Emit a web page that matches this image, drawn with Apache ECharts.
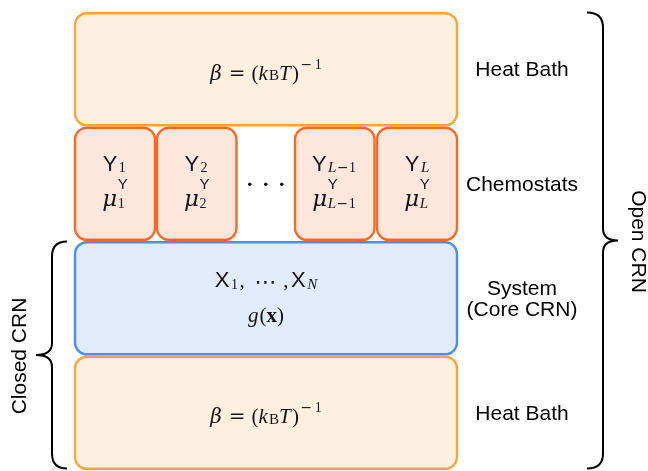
<!DOCTYPE html>
<html><head><meta charset="utf-8">
<script src="https://cdn.jsdelivr.net/npm/echarts/dist/echarts.min.js"></script>
<style>html,body{margin:0;padding:0;background:#fff}#c{width:648px;height:471px}</style>
</head><body><div id="c"></div>
<script>
// ---------- content (data) ----------
const layerKinds  = ['heat', 'chemo', 'system', 'heat'];
const layerLabels = ['Heat Bath', 'Chemostats', 'System\n(Core CRN)', 'Heat Bath'];
const heatBathFormula = [['β','gk'],['=','rel'],['(','rm'],['k','mi'],['B','subB'],['T','mi'],[')','rm'],['−','supbin'],['1','sup']];
const chemostatIndex = [ [['1','sub']], [['2','sub']], [['L','subi'],['−','subbin'],['1','sub']], [['L','subi']] ];
const chemostatSpecies = 'Y';
const chemostatPotential = 'μ';
const systemSpeciesLine = [['X','sf'],['1','sub'],[',','punct'],['⋯','cdots'],[',','punct'],['X','sf'],['N','subi']];
const systemPotentialLine = [['g','mi'],['(','rm'],['x','bf'],[')','rm']];
const braces = [
  { name: 'Open CRN',   from: 0, to: 3, side: 'right' },
  { name: 'Closed CRN', from: 2, to: 3, side: 'left' }
];

// ---------- layout & style ----------
const L = {
  boxLeft: 75, boxRight: 457, gap: 1.2, radius: 12, lw: 2.4,
  chemoX: [[75,155],[157,236.5],[295,374.5],[377,457]],
  dotsDX: 16, dotR: 1.7,
  labelX: 522, labelFont: '21px "Liberation Sans"',
  braceRight: { end: 587, mid: 603, tip: 618, textX: 637.5, rot: -Math.PI/2 },
  braceLeft:  { end: 67,  mid: 52,  tip: 36,  textX: 20.5, rot:  Math.PI/2 },
  braceR: 15, braceTipR: 12,
  heatBase: 10.5, chemoBase: [-13, 22.5], sysBase: [-11, 23.5]
};
const COL = {
  heat:   { fill: '#fef0e0', stroke: '#f9a43c' },
  chemo:  { fill: '#fde6dc', stroke: '#f76a24' },
  system: { fill: '#e1ebfc', stroke: '#4b8df6' },
  text: '#000', math: '#151515'
};
const FONTS = {
  sf:     { font: '22px "Liberation Sans"', dy: 0, pr: 1.5 },
  mi:     { font: 'italic 21px "Liberation Serif"', dy: 0, pr: 1.2 },
  gk:     { font: 'italic 20px "DejaVu Serif"', dy: 0 },
  mu:     { font: 'italic 23px "DejaVu Serif"', dy: 0, pr: 0.5 },
  rm:     { font: '21px "Liberation Serif"', dy: 0 },
  rel:    { font: '20px "DejaVu Serif"', dy: 0, pl: 7, pr: 6 },
  bf:     { font: 'bold 21px "Liberation Serif"', dy: 0 },
  punct:  { font: '21px "Liberation Serif"', dy: 0, pr: 2.5 },
  cdots:  { font: '22px "DejaVu Sans"', dy: 1.5, pl: 7, pr: 7 },
  sub:    { font: '14px "Liberation Serif"', dy: 1.5, pr: 1.5 },
  subi:   { font: 'italic 15px "Liberation Serif"', dy: 1.5 },
  subbin: { font: '14px "DejaVu Serif"', dy: 1.5, pl: 0.5, pr: 0.5 },
  subB:   { font: '15px "Liberation Serif"', dy: 0.5 },
  sup:    { font: '14px "Liberation Serif"', dy: -11 },
  supbin: { font: '14px "DejaVu Serif"', dy: -11, pl: 1.5, pr: 2.5 },
  supsf:  { font: '15px "Liberation Sans"', dy: -17.5 }
};

const mctx = document.createElement('canvas').getContext('2d');
function textW(font, t){ mctx.font = font; return mctx.measureText(t).width; }
function midToBase(font){ mctx.font = font; mctx.textBaseline = 'middle'; return mctx.measureText('H').actualBoundingBoxDescent; }
function txt(x, y, t, font){
  return { type:'text', x:x, y:y, silent:true,
    style:{ text:t, font:font, fill:COL.math, align:'left', textAlign:'left', verticalAlign:'middle', textVerticalAlign:'middle' } };
}
function pieceW(p){
  if (p.stack) return Math.max(...p.stack.map(row => row.reduce((s,q)=>s+pieceW(q),0)));
  const f = FONTS[p[1]];
  return (f.pl||0) + textW(f.font, p[0]) + (f.pr||0);
}
function renderPieces(x, baseY, pieces, out){
  pieces.forEach(p => {
    if (p.stack) {
      p.stack.forEach(row => renderPieces(x, baseY, row, out));
      x += pieceW(p); return;
    }
    const f = FONTS[p[1]];
    out.push(txt(x + (f.pl||0), baseY + f.dy - midToBase(f.font), p[0], f.font));
    x += pieceW(p);
  });
}
function mathLine(cx, baseY, pieces, out){
  const w = pieces.reduce((s,p)=>s+pieceW(p),0);
  renderPieces(cx - w/2, baseY, pieces, out);
}
function box(x0, y0, x1, y1, c){
  return { type:'rect', silent:true, shape:{ x:x0, y:y0, width:x1-x0, height:y1-y0, r:L.radius },
    style:{ fill:c.fill, stroke:c.stroke, lineWidth:L.lw } };
}

const chart = echarts.init(document.getElementById('c'));
chart.setOption({
  animation: false,
  grid: { left: 0, right: 0, top: 12, bottom: 1 },
  xAxis: { type: 'value', min: 0, max: 648, show: false },
  yAxis: { type: 'category', data: layerKinds.map((k,i)=>i), inverse: true, show: false },
  series: [
    {
      type: 'custom', name: 'layers',
      data: layerKinds.map((k,i) => [0, i]),
      encode: { x: 0, y: 1 },
      renderItem(params, api){
        const i = api.value(1), kind = layerKinds[i];
        const c = api.coord([0, i]); const band = api.size([0, 1])[1];
        const top = c[1] - band/2 + L.gap, bottom = c[1] + band/2 - L.gap, cy = c[1];
        const X = v => api.coord([v, i])[0];
        const ch = [];
        if (kind === 'chemo') {
          chemostatIndex.forEach((idx, j) => {
            const x0 = X(L.chemoX[j][0]), x1 = X(L.chemoX[j][1]);
            ch.push(box(x0, top, x1, bottom, COL.chemo));
            const cx = (x0 + x1)/2;
            mathLine(cx, cy + L.chemoBase[0], [[chemostatSpecies,'sf'], ...idx], ch);
            mathLine(cx, cy + L.chemoBase[1], [[chemostatPotential,'mu'], { stack: [[[chemostatSpecies,'supsf']], idx] }], ch);
          });
          const gx = (X(L.chemoX[1][1]) + X(L.chemoX[2][0]))/2;
          [-1,0,1].forEach(k => ch.push({ type:'circle', silent:true, shape:{ cx: gx + k*L.dotsDX, cy: cy + 0.5, r: L.dotR }, style:{ fill:'#000' } }));
        } else {
          ch.push(box(X(L.boxLeft), top, X(L.boxRight), bottom, COL[kind]));
          const cx = (X(L.boxLeft) + X(L.boxRight))/2;
          if (kind === 'heat') {
            mathLine(cx, cy + L.heatBase, heatBathFormula, ch);
          } else {
            mathLine(cx, cy + L.sysBase[0], systemSpeciesLine, ch);
            mathLine(cx, cy + L.sysBase[1], systemPotentialLine, ch);
          }
        }
        ch.push({ type:'text', silent:true, x: X(L.labelX), y: cy + 1,
          style:{ text: layerLabels[i], font: L.labelFont, fill: COL.text, align:'center', textAlign:'center',
                  verticalAlign:'middle', textVerticalAlign:'middle', lineHeight: 21 } });
        return { type:'group', children: ch };
      }
    },
    {
      type: 'custom', name: 'braces',
      data: braces.map(b => [0, b.from, b.to]),
      encode: { x: 0, y: 1 },
      renderItem(params, api){
        const b = braces[params.dataIndex];
        const band = api.size([0, 1])[1];
        const yT = api.coord([0, b.from])[1] - band/2 + 0.5;
        const yB = api.coord([0, b.to])[1] + band/2 - 1.5;
        const yM = (yT + yB)/2;
        const g = b.side === 'right' ? L.braceRight : L.braceLeft;
        const X = v => api.coord([v, b.from])[0];
        const e = X(g.end), m = X(g.mid), t = X(g.tip), r = L.braceR, rt = L.braceTipR;
        const d = `M${e},${yT} Q${m},${yT} ${m},${yT+r} L${m},${yM-rt} Q${m},${yM} ${t},${yM} Q${m},${yM} ${m},${yM+rt} L${m},${yB-r} Q${m},${yB} ${e},${yB}`;
        return { type:'group', children: [
          { type:'path', silent:true, shape:{ pathData: d }, style:{ fill:'none', stroke:'#000', lineWidth:2 } },
          { type:'text', silent:true, x: X(g.textX), y: yM + 1, rotation: g.rot,
            style:{ text: b.name, font: L.labelFont, fill: COL.text, align:'center', textAlign:'center',
                    verticalAlign:'middle', textVerticalAlign:'middle' } }
        ] };
      }
    }
  ]
});
</script>
</body></html>
